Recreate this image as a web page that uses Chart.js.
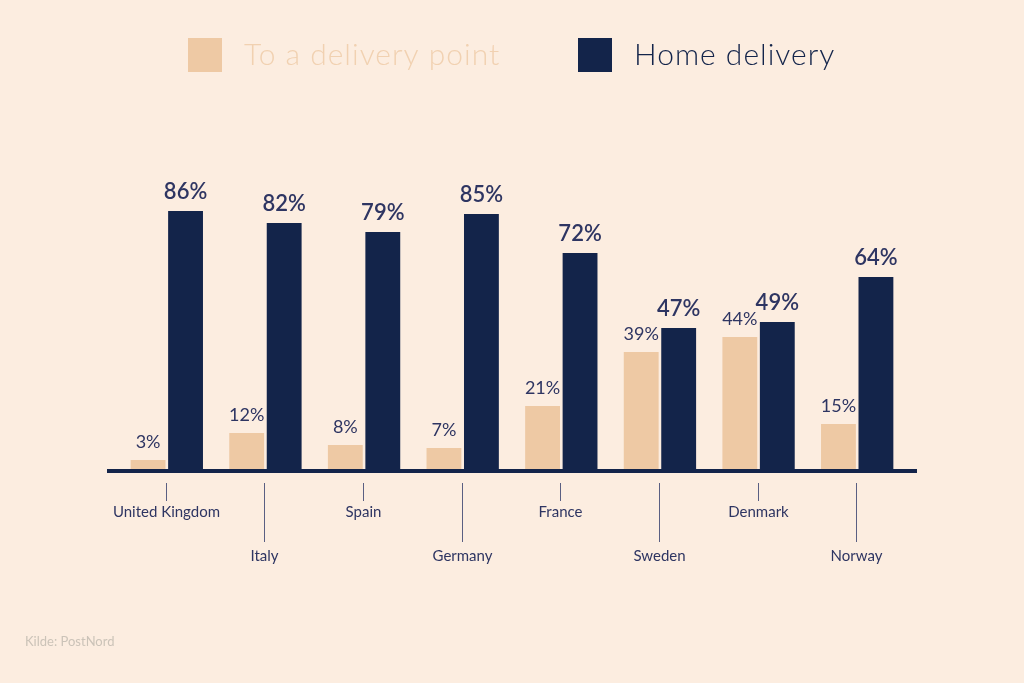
<!DOCTYPE html>
<html>
<head>
<meta charset="utf-8">
<script src="https://cdn.jsdelivr.net/npm/chart.js@4"></script>
<style>
html,body{margin:0;padding:0;background:#fcede0;}
#wrap{width:1024px;height:683px;position:relative;}
</style>
</head>
<body>
<div id="wrap"><canvas id="c" width="1024" height="683"></canvas></div>
<script>
const categories = ['United Kingdom','Italy','Spain','Germany','France','Sweden','Denmark','Norway'];
const deliveryPoint = [3,12,8,7,21,39,44,15];
const homeDelivery = [86,82,79,85,72,47,49,64];
const seriesNames = ['To a delivery point','Home delivery'];
const sourceText = 'Kilde: PostNord';

const LIGHT = '#eec9a4';
const DARK = '#13244a';
const TEXT = '#2e3562';
const FONT = 'Lato, "Noto Sans", sans-serif';

const bgPlugin = {
  id: 'bg',
  beforeDraw(chart){
    const ctx = chart.ctx;
    ctx.save();
    ctx.fillStyle = '#fcede0';
    ctx.fillRect(0,0,chart.width,chart.height);
    ctx.restore();
  }
};

const decorPlugin = {
  id: 'decor',
  afterDatasetsDraw(chart){
    const ctx = chart.ctx;
    const x = chart.scales.x, y = chart.scales.y;
    const base = y.getPixelForValue(0);
    ctx.save();
    // axis line
    ctx.fillStyle = DARK;
    ctx.fillRect(x.left - 10.5, base, (x.right - x.left) + 21, 4);
    // value labels
    chart.data.datasets.forEach((ds, di) => {
      const meta = chart.getDatasetMeta(di);
      meta.data.forEach((bar, i) => {
        ctx.fillStyle = TEXT;
        ctx.textAlign = 'center';
        ctx.textBaseline = 'alphabetic';
        ctx.font = di === 1 ? '600 22px ' + FONT : '400 18px ' + FONT;
        ctx.fillText(ds.data[i] + '%', bar.x, bar.y - 12);
      });
    });
    // category ticks and labels
    ctx.strokeStyle = '#5a5f82';
    ctx.lineWidth = 1;
    ctx.font = '400 15px ' + FONT;
    ctx.fillStyle = TEXT;
    ctx.textAlign = 'center';
    ctx.textBaseline = 'middle';
    categories.forEach((c, i) => {
      const px = Math.round(x.getPixelForValue(i)) - 0.5;
      const long = i % 2 === 1;
      ctx.beginPath();
      ctx.moveTo(px, base + 14);
      ctx.lineTo(px, base + (long ? 73 : 32));
      ctx.stroke();
      ctx.fillText(c, px, base + (long ? 87 : 43));
    });
    // legend
    const items = chart.data.datasets.map(d => ({label: d.label, color: d.backgroundColor}));
    const legendX = [188, 578];
    const textColors = ['#f1d1b1', DARK];
    ctx.font = '300 30px ' + FONT;
    ctx.letterSpacing = '1px';
    ctx.textAlign = 'left';
    ctx.textBaseline = 'middle';
    items.forEach((it, k) => {
      ctx.fillStyle = it.color;
      ctx.fillRect(legendX[k], 38, 34, 34);
      ctx.fillStyle = textColors[k];
      ctx.fillText(it.label, legendX[k] + 56, 55);
    });
    ctx.letterSpacing = '0px';
    // source
    ctx.font = '400 13px ' + FONT;
    ctx.fillStyle = '#cbc3b8';
    ctx.fillText(sourceText, 25, 642);
    ctx.restore();
  }
};

new Chart(document.getElementById('c'), {
  type: 'bar',
  data: {
    labels: categories,
    datasets: [
      {label: seriesNames[0], data: deliveryPoint, backgroundColor: LIGHT},
      {label: seriesNames[1], data: homeDelivery, backgroundColor: DARK}
    ]
  },
  options: {
    responsive: false,
    animation: false,
    devicePixelRatio: 1,
    layout: {padding: {left: 117.5, right: 117.5, top: 169, bottom: 214}},
    datasets: {bar: {categoryPercentage: 0.76, barPercentage: 0.93}},
    scales: {
      x: {display: false},
      y: {display: false, min: 0, max: 100}
    },
    plugins: {legend: {display: false}, tooltip: {enabled: false}}
  },
  plugins: [bgPlugin, decorPlugin]
});
</script>
</body>
</html>
